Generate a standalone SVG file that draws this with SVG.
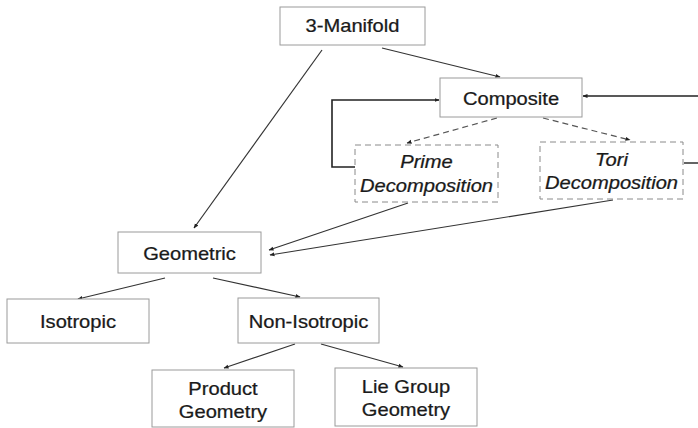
<svg xmlns="http://www.w3.org/2000/svg" width="698" height="428" viewBox="0 0 698 428">
<defs>
<marker id="ah" viewBox="0 0 10 10" refX="9" refY="5" markerWidth="5" markerHeight="5" orient="auto" markerUnits="userSpaceOnUse">
<path d="M0,1 L10,5 L0,9 z" fill="#222"/>
</marker>
</defs>
<style>
.box{fill:#fff;stroke:#9a9a9a;stroke-width:1}
.dbox{fill:#fff;stroke:#8a8a8a;stroke-width:1;stroke-dasharray:6,4}
.t{font-family:"Liberation Sans",Arial,sans-serif;font-size:17.5px;fill:#1a1a1a;stroke:#1a1a1a;stroke-width:0.25;text-anchor:middle}
.i{font-style:italic}
.e{fill:none;stroke:#333;stroke-width:1.2;marker-end:url(#ah)}
.d{fill:none;stroke:#555;stroke-width:1.2;stroke-dasharray:6,4;marker-end:url(#ah)}
.loop{fill:none;stroke:#222;stroke-width:1.6;marker-end:url(#ah)}
.ln{fill:none;stroke:#222;stroke-width:1.4}
</style>
<g id="connectors">
<line class="e" x1="382" y1="48" x2="500" y2="77"/>
<line class="e" x1="322" y1="50" x2="194" y2="228"/>
<line class="d" x1="497" y1="118" x2="407" y2="143"/>
<line class="d" x1="543" y1="118" x2="630" y2="140"/>
<polyline class="loop" points="355,167 332,167 332,100 439,100"/>
<line class="ln" x1="684" y1="163" x2="698" y2="163"/>
<line class="loop" x1="698" y1="96" x2="583" y2="96"/>
<line class="e" x1="408" y1="203" x2="269" y2="250"/>
<line class="e" x1="613" y1="200" x2="270" y2="255"/>
<line class="e" x1="165" y1="278" x2="78" y2="299"/>
<line class="e" x1="213" y1="278" x2="300" y2="297"/>
<line class="e" x1="295" y1="344" x2="224" y2="368"/>
<line class="e" x1="321" y1="344" x2="403" y2="367"/>
</g>
<g id="manifold"><rect class="box" x="280" y="7" width="145" height="38"/><text class="t" transform="translate(352.5,32) scale(1.15,1)">3-Manifold</text></g>
<g id="composite"><rect class="box" x="440" y="78" width="142" height="39"/><text class="t" transform="translate(511,104.5) scale(1.15,1)">Composite</text></g>
<g id="prime"><rect class="dbox" x="355" y="145" width="143" height="57"/><text class="t i" transform="translate(426.5,168) scale(1.15,1)">Prime</text><text class="t i" transform="translate(426.5,192) scale(1.15,1)">Decomposition</text></g>
<g id="tori"><rect class="dbox" x="540" y="142" width="143" height="57"/><text class="t i" transform="translate(611.5,165.5) scale(1.15,1)">Tori</text><text class="t i" transform="translate(611.5,189) scale(1.15,1)">Decomposition</text></g>
<g id="geometric"><rect class="box" x="118" y="232" width="143" height="41"/><text class="t" transform="translate(189.5,259.5) scale(1.15,1)">Geometric</text></g>
<g id="isotropic"><rect class="box" x="7" y="299" width="142" height="44"/><text class="t" transform="translate(78,328) scale(1.15,1)">Isotropic</text></g>
<g id="nonisotropic"><rect class="box" x="238" y="298" width="141" height="45"/><text class="t" transform="translate(308.5,327.5) scale(1.15,1)">Non-Isotropic</text></g>
<g id="product"><rect class="box" x="152" y="370" width="142" height="57"/><text class="t" transform="translate(223,395) scale(1.15,1)">Product</text><text class="t" transform="translate(223,418) scale(1.15,1)">Geometry</text></g>
<g id="liegroup"><rect class="box" x="335" y="368" width="142" height="58"/><text class="t" transform="translate(406,393) scale(1.15,1)">Lie Group</text><text class="t" transform="translate(406,416) scale(1.15,1)">Geometry</text></g>
</svg>
